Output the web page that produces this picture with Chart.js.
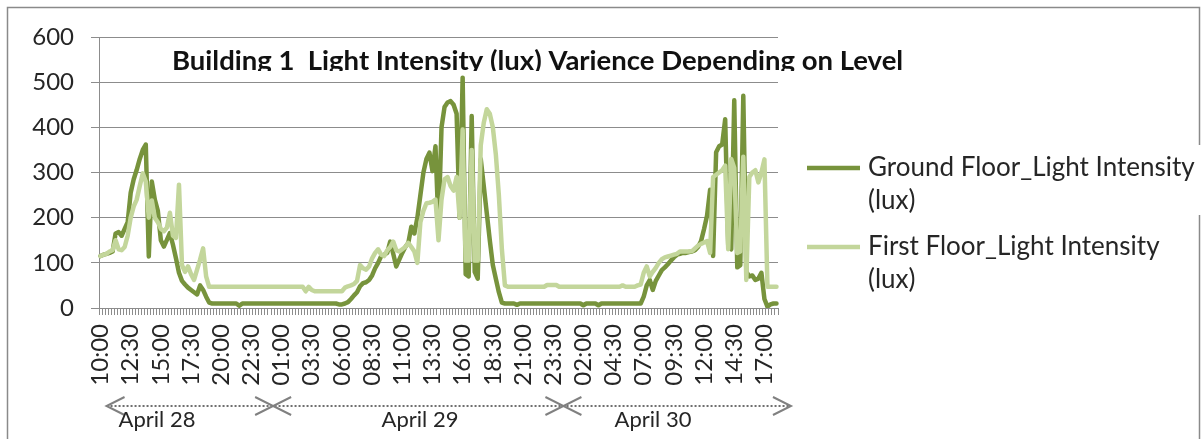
<!DOCTYPE html>
<html>
<head>
<meta charset="utf-8">
<script src="https://cdn.jsdelivr.net/npm/chart.js@4.4.1/dist/chart.umd.min.js"></script>
<style>
  html, body { margin: 0; padding: 0; background: #fff; }
</style>
</head>
<body>
<canvas id="chart" width="1203" height="439"></canvas>
<script>
// Building 1 light intensity, 15-minute readings from 10:00 on April 28
// through 18:00 on April 30. Values.

const TITLE = "Building 1  Light Intensity (lux) Varience Depending on Level";
const SERIES_NAMES = ["Ground Floor_Light Intensity (lux)", "First Floor_Light Intensity (lux)"];
const DAY_LABELS = ["April 28", "April 29", "April 30"];

const START_MINUTES = 10 * 60;
const STEP_MINUTES = 15;
const LABEL_EVERY = 10;

const groundFloor = [
  115, 118, 120, 122, 125, 165, 168, 160, 175, 190,
  255, 285, 306, 330, 350, 362, 114, 280, 240, 215,
  150, 136, 151, 166, 140, 110, 78, 60, 52, 45,
  40, 35, 30, 50, 40, 25, 12, 10, 10, 10,
  10, 10, 10, 10, 10, 10, 5, 10, 10, 10,
  10, 10, 10, 10, 10, 10, 10, 10, 10, 10,
  10, 10, 10, 10, 10, 10, 10, 10, 10, 10,
  10, 10, 10, 10, 10, 10, 10, 10, 10, 8,
  8, 10, 13, 20, 28, 35, 48, 55, 57, 62,
  72, 88, 100, 115, 118, 122, 147, 120, 92, 107,
  122, 135, 144, 180, 165, 200, 250, 300, 330, 344,
  303, 358, 180, 400, 445, 455, 458, 450, 430, 200,
  510, 75, 70, 425, 80, 65, 330, 270, 210, 150,
  95, 65, 35, 12, 10, 10, 10, 10, 7, 10,
  10, 10, 10, 10, 10, 10, 10, 10, 10, 10,
  10, 10, 10, 10, 10, 10, 10, 10, 10, 10,
  6, 10, 10, 10, 10, 6, 10, 10, 10, 10,
  10, 10, 10, 10, 10, 10, 10, 10, 10, 10,
  25, 50, 62, 40, 60, 72, 84, 90, 97, 105,
  112, 118, 120, 122, 122, 124, 125, 128, 135, 148,
  175, 205, 262, 115, 345, 358, 362, 418, 140, 130,
  460, 90, 95, 470, 80, 70, 72, 62, 65, 78,
  20, 3, 8, 10, 10,
];

const firstFloor = [
  115, 118, 120, 125, 128, 150, 130, 128, 135, 160,
  200, 225, 240, 270, 298, 280, 200, 238, 200, 190,
  175, 170, 178, 211, 160, 155, 273, 95, 80, 92,
  75, 62, 85, 107, 132, 70, 47, 47, 47, 47,
  47, 47, 47, 47, 47, 47, 47, 47, 47, 47,
  47, 47, 47, 47, 47, 47, 47, 47, 47, 47,
  47, 47, 47, 47, 47, 47, 47, 47, 37, 47,
  40, 37, 37, 37, 37, 37, 37, 37, 37, 37,
  37, 45, 48, 50, 53, 60, 95, 88, 85, 92,
  110, 122, 130, 118, 115, 128, 135, 147, 128, 125,
  130, 135, 144, 135, 125, 100, 190, 215, 232, 233,
  235, 240, 150, 240, 285, 290, 270, 260, 290, 200,
  395, 105, 105, 350, 105, 105, 360, 410, 440, 430,
  400, 340, 250, 130, 50, 47, 47, 47, 47, 47,
  47, 47, 47, 47, 47, 47, 47, 47, 51, 51,
  51, 51, 47, 47, 47, 47, 47, 47, 47, 47,
  47, 47, 47, 47, 47, 47, 47, 47, 47, 47,
  47, 47, 47, 50, 47, 47, 47, 47, 50, 52,
  78, 92, 70, 80, 89, 100, 108, 112, 114, 116,
  118, 120, 125, 125, 125, 125, 126, 132, 138, 142,
  145, 148, 122, 290, 295, 300, 305, 315, 130, 330,
  310, 122, 125, 335, 62, 290, 300, 305, 278, 300,
  329, 47, 47, 47, 47,
];

const GROUND_COLOR = "#77933C";
const FIRST_COLOR = "#C3D69B";
const AXIS_GREY = "#8c8c8c";
const TEXT = "#262626";
const FONT = "Lato";

// time-of-day category labels, one per reading
const timeLabels = groundFloor.map((_, i) => {
  const m = (START_MINUTES + i * STEP_MINUTES) % (24 * 60);
  const hh = String(Math.floor(m / 60)).padStart(2, "0");
  const mm = String(m % 60).padStart(2, "0");
  return `${hh}:${mm}`;
});

function arrowHead(ctx, x, y, dir) {
  ctx.beginPath();
  ctx.moveTo(x - dir * 18, y - 9);
  ctx.lineTo(x, y);
  ctx.lineTo(x - dir * 18, y + 9);
  ctx.stroke();
}

const decorPlugin = {
  id: "decor",
  beforeDraw(chart) {
    const ctx = chart.ctx;
    ctx.save();
    ctx.fillStyle = "#fff";
    ctx.fillRect(0, 0, chart.width, chart.height);
    ctx.restore();
  },
  afterDraw(chart) {
    const ctx = chart.ctx;
    const xs = chart.scales.x;
    ctx.save();

    // outer frame, broken on the right where the legend text overlaps it
    ctx.strokeStyle = "#8a8a8a";
    ctx.lineWidth = 1.5;
    ctx.beginPath();
    ctx.moveTo(7.5, 445);
    ctx.lineTo(7.5, 7.5);
    ctx.lineTo(1199.5, 7.5);
    ctx.lineTo(1199.5, 145);
    ctx.moveTo(1199.5, 215);
    ctx.lineTo(1199.5, 445);
    ctx.stroke();

    // title, clipped at the bottom like the source
    ctx.save();
    ctx.beginPath();
    ctx.rect(0, 40, chart.width, 31);
    ctx.clip();
    ctx.fillStyle = "#111";
    ctx.font = `bold 27.5px ${FONT}`;
    ctx.textBaseline = "alphabetic";
    ctx.textAlign = "left";
    ctx.fillText(TITLE, 172, 70);
    ctx.restore();

    // legend
    const colors = [GROUND_COLOR, FIRST_COLOR];
    const rows = [168, 247];
    ctx.font = `26px ${FONT}`;
    ctx.fillStyle = TEXT;
    ctx.textAlign = "left";
    SERIES_NAMES.forEach((name, k) => {
      const y = rows[k];
      ctx.strokeStyle = colors[k];
      ctx.lineWidth = 4.5;
      ctx.beginPath();
      ctx.moveTo(807, y);
      ctx.lineTo(860, y);
      ctx.stroke();
      const cut = name.lastIndexOf(" ");
      ctx.fillText(name.slice(0, cut), 868, y + 8);
      ctx.fillText(name.slice(cut + 1), 868, y + 41);
    });

    // day spans under the time axis
    const lineY = 406;
    const marks = [xs.getPixelForValue(2), xs.getPixelForValue(57.2), xs.getPixelForValue(153.4), xs.getPixelForValue(228.8)];
    ctx.strokeStyle = "#6f6f6f";
    ctx.lineWidth = 2;
    ctx.setLineDash([2, 2]);
    ctx.beginPath();
    ctx.moveTo(marks[0], lineY);
    ctx.lineTo(marks[3], lineY);
    ctx.stroke();
    ctx.setLineDash([]);
    ctx.strokeStyle = "#808080";
    arrowHead(ctx, marks[0], lineY, -1);
    arrowHead(ctx, marks[1], lineY, 1);
    arrowHead(ctx, marks[1], lineY, -1);
    arrowHead(ctx, marks[2], lineY, 1);
    arrowHead(ctx, marks[2], lineY, -1);
    arrowHead(ctx, marks[3], lineY, 1);

    ctx.font = `22px ${FONT}`;
    ctx.fillStyle = TEXT;
    ctx.textAlign = "center";
    const centers = [157, 420, 653];
    DAY_LABELS.forEach((d, k) => ctx.fillText(d, centers[k], 427));

    ctx.restore();
  },
};

new Chart(document.getElementById("chart").getContext("2d"), {
  type: "line",
  data: {
    labels: timeLabels,
    datasets: [
      {
        label: SERIES_NAMES[0],
        data: groundFloor,
        borderColor: GROUND_COLOR,
        borderWidth: 4.5,
        order: 1,
      },
      {
        label: SERIES_NAMES[1],
        data: firstFloor,
        borderColor: FIRST_COLOR,
        borderWidth: 4.5,
        order: 0,
      },
    ],
  },
  options: {
    responsive: false,
    animation: false,
    layout: { padding: { top: 37, right: 425, bottom: 0, left: 0 } },
    elements: {
      point: { radius: 0 },
      line: { tension: 0, borderJoinStyle: "round", borderCapStyle: "round", fill: false },
    },
    plugins: {
      legend: { display: false },
      title: { display: false },
      tooltip: { enabled: false },
    },
    scales: {
      x: {
        offset: true,
        grid: { offset: true, drawOnChartArea: false, drawTicks: true, tickLength: 7, color: AXIS_GREY },
        border: { color: AXIS_GREY },
        ticks: {
          autoSkip: false,
          maxRotation: 90,
          minRotation: 90,
          padding: 9,
          color: TEXT,
          font: { family: FONT, size: 24 },
          callback(value, index) {
            return index % LABEL_EVERY === 0 ? this.getLabelForValue(value) : "";
          },
        },
        afterFit(scale) {
          scale.height = 131;
        },
      },
      y: {
        min: 0,
        max: 600,
        ticks: { stepSize: 100, padding: 17, color: TEXT, font: { family: FONT, size: 24 } },
        grid: { color: AXIS_GREY, tickLength: 8 },
        border: { color: AXIS_GREY },
        afterFit(scale) {
          scale.width = 99;
        },
      },
    },
  },
  plugins: [decorPlugin],
});
</script>
</body>
</html>
